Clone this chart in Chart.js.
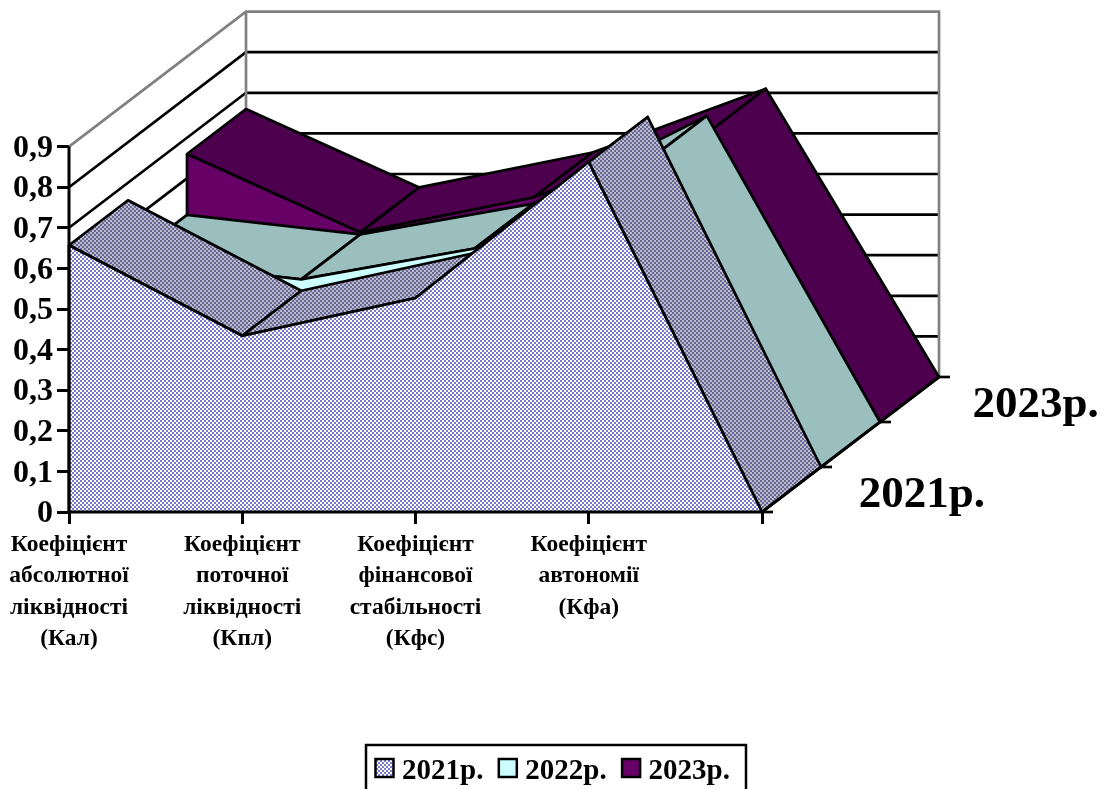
<!DOCTYPE html>
<html>
<head>
<meta charset="utf-8">
<style>html,body{margin:0;padding:0;background:#fff;overflow:hidden}canvas{display:block}</style>
<script src="https://cdn.jsdelivr.net/npm/chart.js@4"></script>
</head>
<body>
<canvas id="c" width="1109" height="789"></canvas>
<script>
const categories = [
  ['Коефіцієнт','абсолютної','ліквідності','(Кал)'],
  ['Коефіцієнт','поточної','ліквідності','(Кпл)'],
  ['Коефіцієнт','фінансової','стабільності','(Кфс)'],
  ['Коефіцієнт','автономії','(Кфа)'],
  ''
];
const seriesNames = ['2021р.', '2022р.', '2023р.'];
const values2021 = [0.657, 0.434, 0.527, 0.862, 0];
const values2022 = [0.51, 0.462, 0.538, 0.754, 0];
const values2023 = [0.66, 0.467, 0.553, 0.71, 0];
const yTicks = [0, 0.1, 0.2, 0.3, 0.4, 0.5, 0.6, 0.7, 0.8, 0.9];
const yTickLabels = ['0', '0,1', '0,2', '0,3', '0,4', '0,5', '0,6', '0,7', '0,8', '0,9'];
const depthTickLabels = ['', '2021р.', '', '2023р.'];

const allValues = [values2021, values2022, values2023];
const SERIF = '"Liberation Serif","Times New Roman",serif';
const X_UNIT = 173.25, Y_UNIT = 406;       // px per category / per 1.0 of value
const DEPTH_DX = 59, DEPTH_DY = 45;        // projection of one depth step
const X_MAX = 871 / X_UNIT, Y_MAX = 500 / Y_UNIT;
const LW = 2.7;

function tile(a, b) {
  const t = document.createElement('canvas');
  t.width = t.height = 4;
  const g = t.getContext('2d');
  g.fillStyle = b; g.fillRect(0, 0, 4, 4);
  g.fillStyle = a; g.fillRect(0, 0, 2, 2); g.fillRect(2, 2, 2, 2);
  return g.createPattern(t, 'repeat');
}
const frontFill = [tile('#7c7ccc', '#ffffff'), '#ccffff', '#660066'];
const topFill = [tile('#66669a', '#bcbcc6'), '#9bbfbf', '#4d004d'];

const px = (c, k, i) => c.scales['x' + k].getPixelForValue(i);
const py = (c, k, v) => c.scales['y' + k].getPixelForValue(v);

function seg(ctx, pts, color, width) {
  ctx.save();
  ctx.strokeStyle = color; ctx.lineWidth = width; ctx.lineJoin = 'miter';
  ctx.beginPath();
  pts.forEach((p, n) => n ? ctx.lineTo(p[0], p[1]) : ctx.moveTo(p[0], p[1]));
  ctx.stroke();
  ctx.restore();
}
function ribbon(c, k) {
  const ctx = c.ctx, vals = allValues[k];
  ctx.save();
  ctx.fillStyle = topFill[k]; ctx.strokeStyle = '#000'; ctx.lineWidth = LW; ctx.lineJoin = 'round';
  for (let i = 0; i < vals.length - 1; i++) {
    ctx.beginPath();
    ctx.moveTo(px(c, k, i), py(c, k, vals[i]));
    ctx.lineTo(px(c, k + 1, i), py(c, k + 1, vals[i]));
    ctx.lineTo(px(c, k + 1, i + 1), py(c, k + 1, vals[i + 1]));
    ctx.lineTo(px(c, k, i + 1), py(c, k, vals[i + 1]));
    ctx.closePath();
    ctx.fill(); ctx.stroke();
  }
  ctx.restore();
}
const solid3d = {
  id: 'solid3d',
  beforeDatasetsDraw(c) {
    const top = yTicks[yTicks.length - 1], last = categories.length - 1;
    yTicks.slice(1, -1).forEach(t => seg(c.ctx, [
      [px(c, 0, 0), py(c, 0, t)], [px(c, 3, 0), py(c, 3, t)], [px(c, 3, last), py(c, 3, t)]
    ], '#000', LW));
    seg(c.ctx, [
      [px(c, 0, 0), py(c, 0, top)], [px(c, 3, 0), py(c, 3, top)],
      [px(c, 3, last), py(c, 3, top)], [px(c, 3, last), py(c, 3, 0)]
    ], '#808080', LW);
    seg(c.ctx, [[px(c, 3, 0), py(c, 3, top)], [px(c, 3, 0), py(c, 3, 0)]], '#808080', LW);
    ribbon(c, 2);
  },
  afterDatasetDraw(c, args) {
    const k = args.index;
    seg(c.ctx, [[px(c, k, 0), py(c, k, allValues[k][0])], [px(c, k, 0), py(c, k, 0)]], '#000', LW);
    if (k > 0) ribbon(c, k - 1);
  },
  afterDatasetsDraw(c) {
    const ctx = c.ctx, last = categories.length - 1, top = yTicks[yTicks.length - 1];
    seg(ctx, [[px(c, 0, 0), py(c, 0, top)], [px(c, 0, 0), py(c, 0, 0)], [px(c, 0, last), py(c, 0, 0)],
              [px(c, 3, last), py(c, 3, 0)]], '#000', 3);
    ctx.save();
    ctx.fillStyle = '#000'; ctx.textBaseline = 'alphabetic'; ctx.textAlign = 'left';
    ctx.font = 'bold 45px ' + SERIF;
    depthTickLabels.forEach((lab, k) => {
      const x = px(c, k, last), y = py(c, k, 0);
      seg(ctx, [[x, y], [x + 11, y]], '#000', LW);
      if (lab) ctx.fillText(lab, x + 40 - 2.2 * k, y + 39.5);
    });
    // legend
    ctx.strokeStyle = '#000'; ctx.lineWidth = 2.5;
    ctx.fillStyle = '#fff';
    ctx.fillRect(366, 745, 380, 60); ctx.strokeRect(366, 745, 380, 60);
    ctx.font = 'bold 29px ' + SERIF;
    seriesNames.forEach((name, k) => {
      const x = 375.5 + k * 123.3;
      ctx.fillStyle = frontFill[k];
      ctx.fillRect(x, 759, 18, 18); ctx.strokeRect(x, 759, 18, 18);
      ctx.fillStyle = '#000';
      ctx.fillText(name, x + 26.5, 779);
    });
    ctx.restore();
  }
};

function noPad(s) { s.paddingTop = s.paddingBottom = s.paddingLeft = s.paddingRight = 0; }
const scales = {};
for (let k = 0; k < 4; k++) {
  const xShift = k * DEPTH_DX / X_UNIT, yShift = k * DEPTH_DY / Y_UNIT;
  scales['x' + k] = {type: 'linear', axis: 'x', position: 'bottom', display: k === 0,
    min: -xShift, max: X_MAX - xShift};
  scales['y' + k] = {type: 'linear', axis: 'y', position: 'left', display: k === 0,
    min: -yShift, max: Y_MAX - yShift};
}
Object.assign(scales.x0, {
  afterBuildTicks(s) { s.ticks = categories.map((_, i) => ({value: i})); },
  afterFit(s) { s.height = 277; noPad(s); },
  border: {display: false},
  grid: {drawOnChartArea: false, drawTicks: true, tickLength: 12, color: '#000', lineWidth: 3},
  ticks: {autoSkip: false, maxRotation: 0, minRotation: 0, padding: 5, color: '#000',
    font: {family: SERIF, weight: 'bold', size: 23.5, lineHeight: 1.335},
    callback: (v) => categories[v]}
});
Object.assign(scales.y0, {
  afterBuildTicks(s) { s.ticks = yTicks.map(value => ({value})); },
  afterFit(s) { s.width = 69; noPad(s); },
  border: {display: false},
  grid: {drawOnChartArea: false, drawTicks: true, tickLength: 12, color: '#000', lineWidth: 3},
  ticks: {autoSkip: false, padding: 4, labelOffset: 2, color: '#000',
    font: {family: SERIF, weight: 'bold', size: 32},
    callback: (v) => yTickLabels[yTicks.indexOf(v)]}
});

new Chart(document.getElementById('c'), {
  type: 'line',
  plugins: [solid3d],
  data: {
    datasets: seriesNames.map((name, k) => ({
      label: name,
      data: allValues[k].map((y, x) => ({x, y})),
      xAxisID: 'x' + k, yAxisID: 'y' + k,
      borderColor: '#000', borderWidth: LW, backgroundColor: frontFill[k],
      fill: 'origin', tension: 0, pointRadius: 0, clip: false
    }))
  },
  options: {
    responsive: false, animation: false,
    layout: {padding: {top: 12, right: 169, left: 0, bottom: 0}},
    plugins: {legend: {display: false}, tooltip: {enabled: false}},
    scales
  }
});
</script>
</body>
</html>
